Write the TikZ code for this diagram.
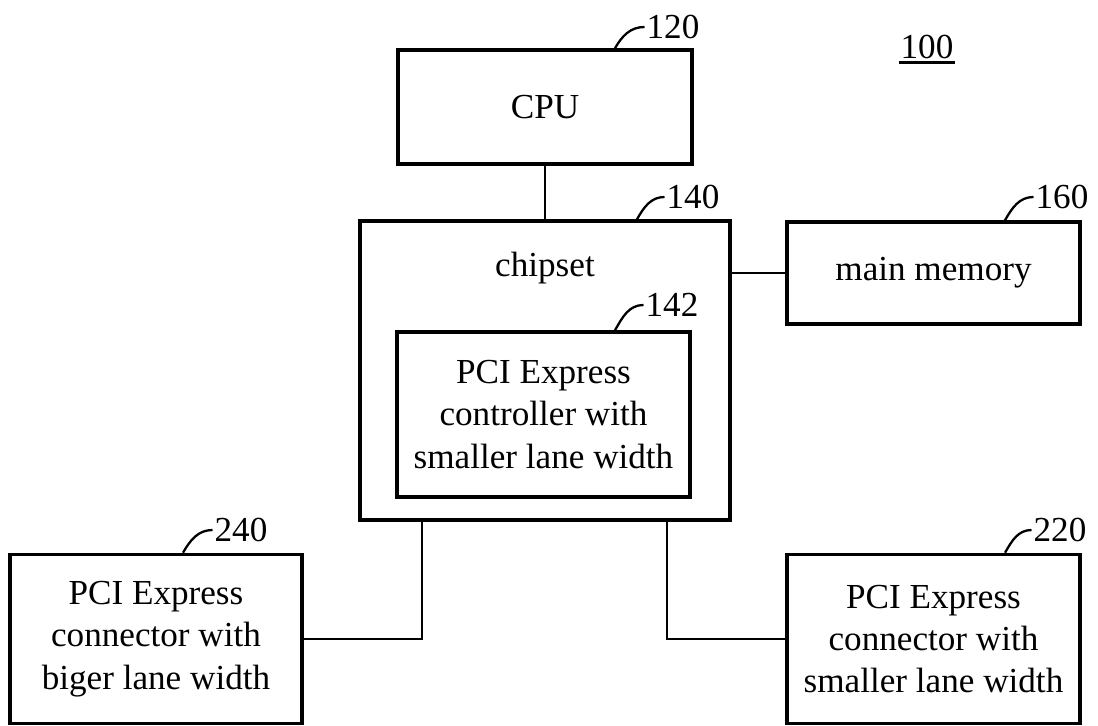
\documentclass[tikz,border=0pt]{standalone}
\usepackage{fontspec}
\setmainfont{Liberation Serif}
\usetikzlibrary{calc}

\tikzset{
	blk/.style={draw, line width=2pt, align=center, inner sep=0pt},
	wire/.style={line width=1.3pt},
	lead/.style={line width=1.3pt},
	refnum/.style={inner sep=1pt}
}

\begin{document}
\begin{tikzpicture}[font=\fontsize{20}{24}\selectfont]
	\useasboundingbox (0,0) rectangle (21.96,14.52);

	\node[blk, minimum width=5.88cm, minimum height=2.28cm] (cpu) at (10.9,12.38) {CPU};
	\node[blk, minimum width=7.4cm, minimum height=5.98cm] (chipset) at (10.9,7.11) {};
	\node (chiptxt) at (10.9,9.16) {chipset};
	\node[blk, minimum width=5.86cm, minimum height=3.3cm] (ctrl) at (10.87,6.23)
		{PCI Express\\controller with\\smaller lane width};
	\node[blk, minimum width=5.86cm, minimum height=2.04cm] (mem) at (18.67,9.06) {main memory};
	\node[blk, minimum width=5.84cm, minimum height=3.38cm] (con240) at (3.12,1.74)
		{PCI Express\\connector with\\biger lane width};
	\node[blk, minimum width=5.86cm, minimum height=3.38cm] (con220) at (18.67,1.74)
		{PCI Express\\connector with\\smaller lane width};

	\draw[wire] (cpu) -- (chipset);
	\draw[wire] (chipset.east |- mem.west) -- (mem.west);
	\draw[wire] ([xshift=-2.46cm]chipset.south) |- (con240.east);
	\draw[wire] ([xshift=2.44cm]chipset.south) |- (con220.west);

	% reference numerals
	\node[refnum] (n120) at (13.46,13.98) {120};
	\draw[lead] ([xshift=1.4cm]cpu.north) to[out=60,in=180] (n120.west);
	\node[refnum] (n140) at (13.86,10.58) {140};
	\draw[lead] ([xshift=1.84cm]chipset.north) to[out=60,in=180] (n140.west);
	\node[refnum] (n142) at (13.44,8.42) {142};
	\draw[lead] ([xshift=1.43cm]ctrl.north) to[out=60,in=180] (n142.west);
	\node[refnum] (n160) at (21.24,10.58) {160};
	\draw[lead] ([xshift=1.43cm]mem.north) to[out=60,in=180] (n160.west);
	\node[refnum] (n240) at (4.82,3.92) {240};
	\draw[lead] ([xshift=0.54cm]con240.north) to[out=60,in=180] (n240.west);
	\node[refnum] (n220) at (21.2,3.92) {220};
	\draw[lead] ([xshift=1.43cm]con220.north) to[out=60,in=180] (n220.west);

	\node[refnum] (n100) at (18.54,13.58) {100};
	\draw[line width=1.6pt] ([yshift=-1pt]n100.south west) -- ([yshift=-1pt]n100.south east);
\end{tikzpicture}
\end{document}
